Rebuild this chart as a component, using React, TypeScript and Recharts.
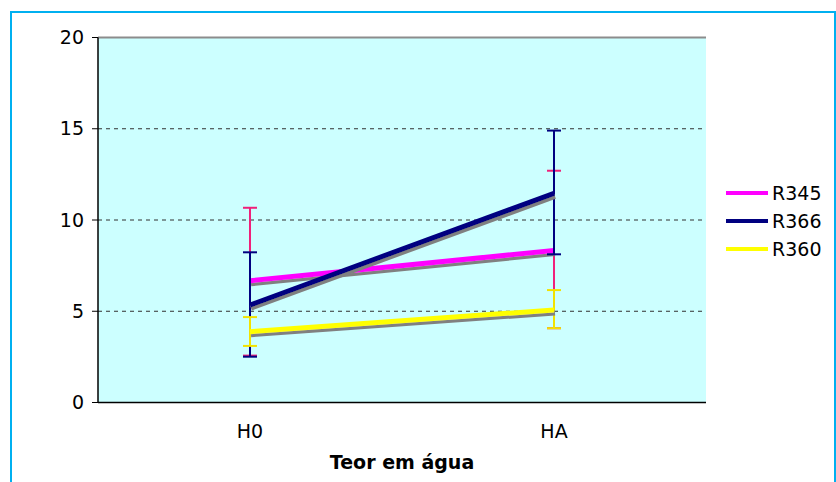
import {
  ComposedChart,
  Line,
  XAxis,
  YAxis,
  CartesianGrid,
  ErrorBar,
  Legend,
  ReferenceLine,
} from 'recharts';

const categories = ['H0', 'HA'];
const r345 = [6.67, 8.33];
const r366 = [5.34, 11.46];
const r360 = [3.88, 5.07];
// [below, above] error amounts
const r345Err = [[4.1, 4.0], [4.26, 4.37]];
const r366Err = [[2.83, 2.89], [3.34, 3.44]];
const r360Err = [[0.78, 0.8], [1.0, 1.09]];
const yTicks = [0, 5, 10, 15, 20];
const gridValues = [5, 10, 15];
const boundaryTicks = [0, 1, 2];

const series = [
  { key: 'R345', values: r345, errors: r345Err, color: '#FF00FF', errColor: '#F0207A' },
  { key: 'R366', values: r366, errors: r366Err, color: '#000080', errColor: '#000080' },
  { key: 'R360', values: r360, errors: r360Err, color: '#FFFF00', errColor: '#F2E200' },
];

const FONT = '"DejaVu Sans", Verdana, sans-serif';

const data = categories.map((cat, i) => {
  const row: Record<string, any> = { cat };
  series.forEach((s) => {
    row[s.key] = s.values[i];
    row[s.key + 'Err'] = s.errors[i];
  });
  return row;
});

function LegendBox() {
  return (
    <div style={{ fontFamily: FONT, fontSize: 19, color: '#000' }}>
      {series.map((s) => (
        <div key={s.key} style={{ display: 'flex', alignItems: 'center', height: 28 }}>
          <svg width={46} height={8}>
            <line x1={0} y1={4} x2={42} y2={4} stroke={s.color} strokeWidth={4} />
          </svg>
          <span>{s.key}</span>
        </div>
      ))}
    </div>
  );
}

export default function App() {
  return (
    <div
      style={{
        position: 'absolute',
        left: 0,
        top: 0,
        width: 836,
        height: 482,
        overflow: 'hidden',
        background: '#fff',
      }}
    >
      <div
        style={{
          position: 'absolute',
          left: 10,
          top: 11,
          width: 826,
          height: 520,
          boxSizing: 'border-box',
          border: '2px solid #00B0F0',
        }}
      />
      <div style={{ position: 'absolute', left: 0, top: 0 }}>
        <ComposedChart
          width={836}
          height={482}
          data={data}
          margin={{ top: 37.5, right: 130, bottom: 0, left: 0 }}
        >
          <defs>
            <filter id="lineShadow" filterUnits="userSpaceOnUse" x={0} y={0} width={836} height={482}>
              <feDropShadow dx={1} dy={3} stdDeviation={0} floodColor="#808080" floodOpacity={1} />
            </filter>
          </defs>

          <CartesianGrid
            xAxisId="cat"
            horizontalValues={gridValues}
            vertical={false}
            fill="#CCFFFF"
            fillOpacity={1}
            stroke="#303030"
            strokeDasharray="4 4"
          />

          {/* boundary axis: draws the axis line and the tick marks between categories */}
          <XAxis
            xAxisId="bounds"
            type="number"
            domain={[0, 2]}
            allowDataOverflow
            ticks={boundaryTicks}
            tick={false}
            tickSize={6}
            tickLine={{ stroke: '#000' }}
            axisLine={{ stroke: '#000', strokeWidth: 1.5 }}
            height={1}
          />
          <XAxis
            xAxisId="cat"
            dataKey="cat"
            scale="band"
            height={78.5}
            tickLine={false}
            tickSize={0}
            tickMargin={21}
            axisLine={false}
            tick={{ fill: '#000', fontSize: 19, fontFamily: FONT }}
            label={{
              value: 'Teor em água',
              position: 'insideBottom',
              offset: 13,
              style: { fill: '#000', fontSize: 19, fontWeight: 'bold', fontFamily: FONT },
            }}
          />
          <YAxis
            domain={[0, 20]}
            ticks={yTicks}
            width={98}
            tickSize={6}
            tickMargin={8}
            tickLine={{ stroke: '#000' }}
            axisLine={{ stroke: '#000', strokeWidth: 1.5 }}
            tick={{ fill: '#000', fontSize: 19, fontFamily: FONT }}
          />

          <ReferenceLine y={20} xAxisId="cat" stroke="#8c8c8c" strokeWidth={2} />
          <ReferenceLine x={2} xAxisId="bounds" stroke="#8c8c8c" strokeWidth={2} />

          <Legend
            layout="vertical"
            align="center"
            verticalAlign="middle"
            wrapperStyle={{ left: 726, top: 179, width: 110 }}
            content={() => <LegendBox />}
          />

          {series.map((s) => (
            <Line
              key={s.key}
              xAxisId="cat"
              dataKey={s.key}
              name={s.key}
              stroke={s.color}
              strokeWidth={5}
              strokeLinecap="butt"
              filter="url(#lineShadow)"
              dot={false}
              activeDot={false}
              isAnimationActive={false}
            >
              <ErrorBar
                dataKey={s.key + 'Err'}
                direction="y"
                width={7}
                stroke={s.errColor}
                strokeWidth={2}
                isAnimationActive={false}
              />
            </Line>
          ))}
        </ComposedChart>
      </div>
    </div>
  );
}
